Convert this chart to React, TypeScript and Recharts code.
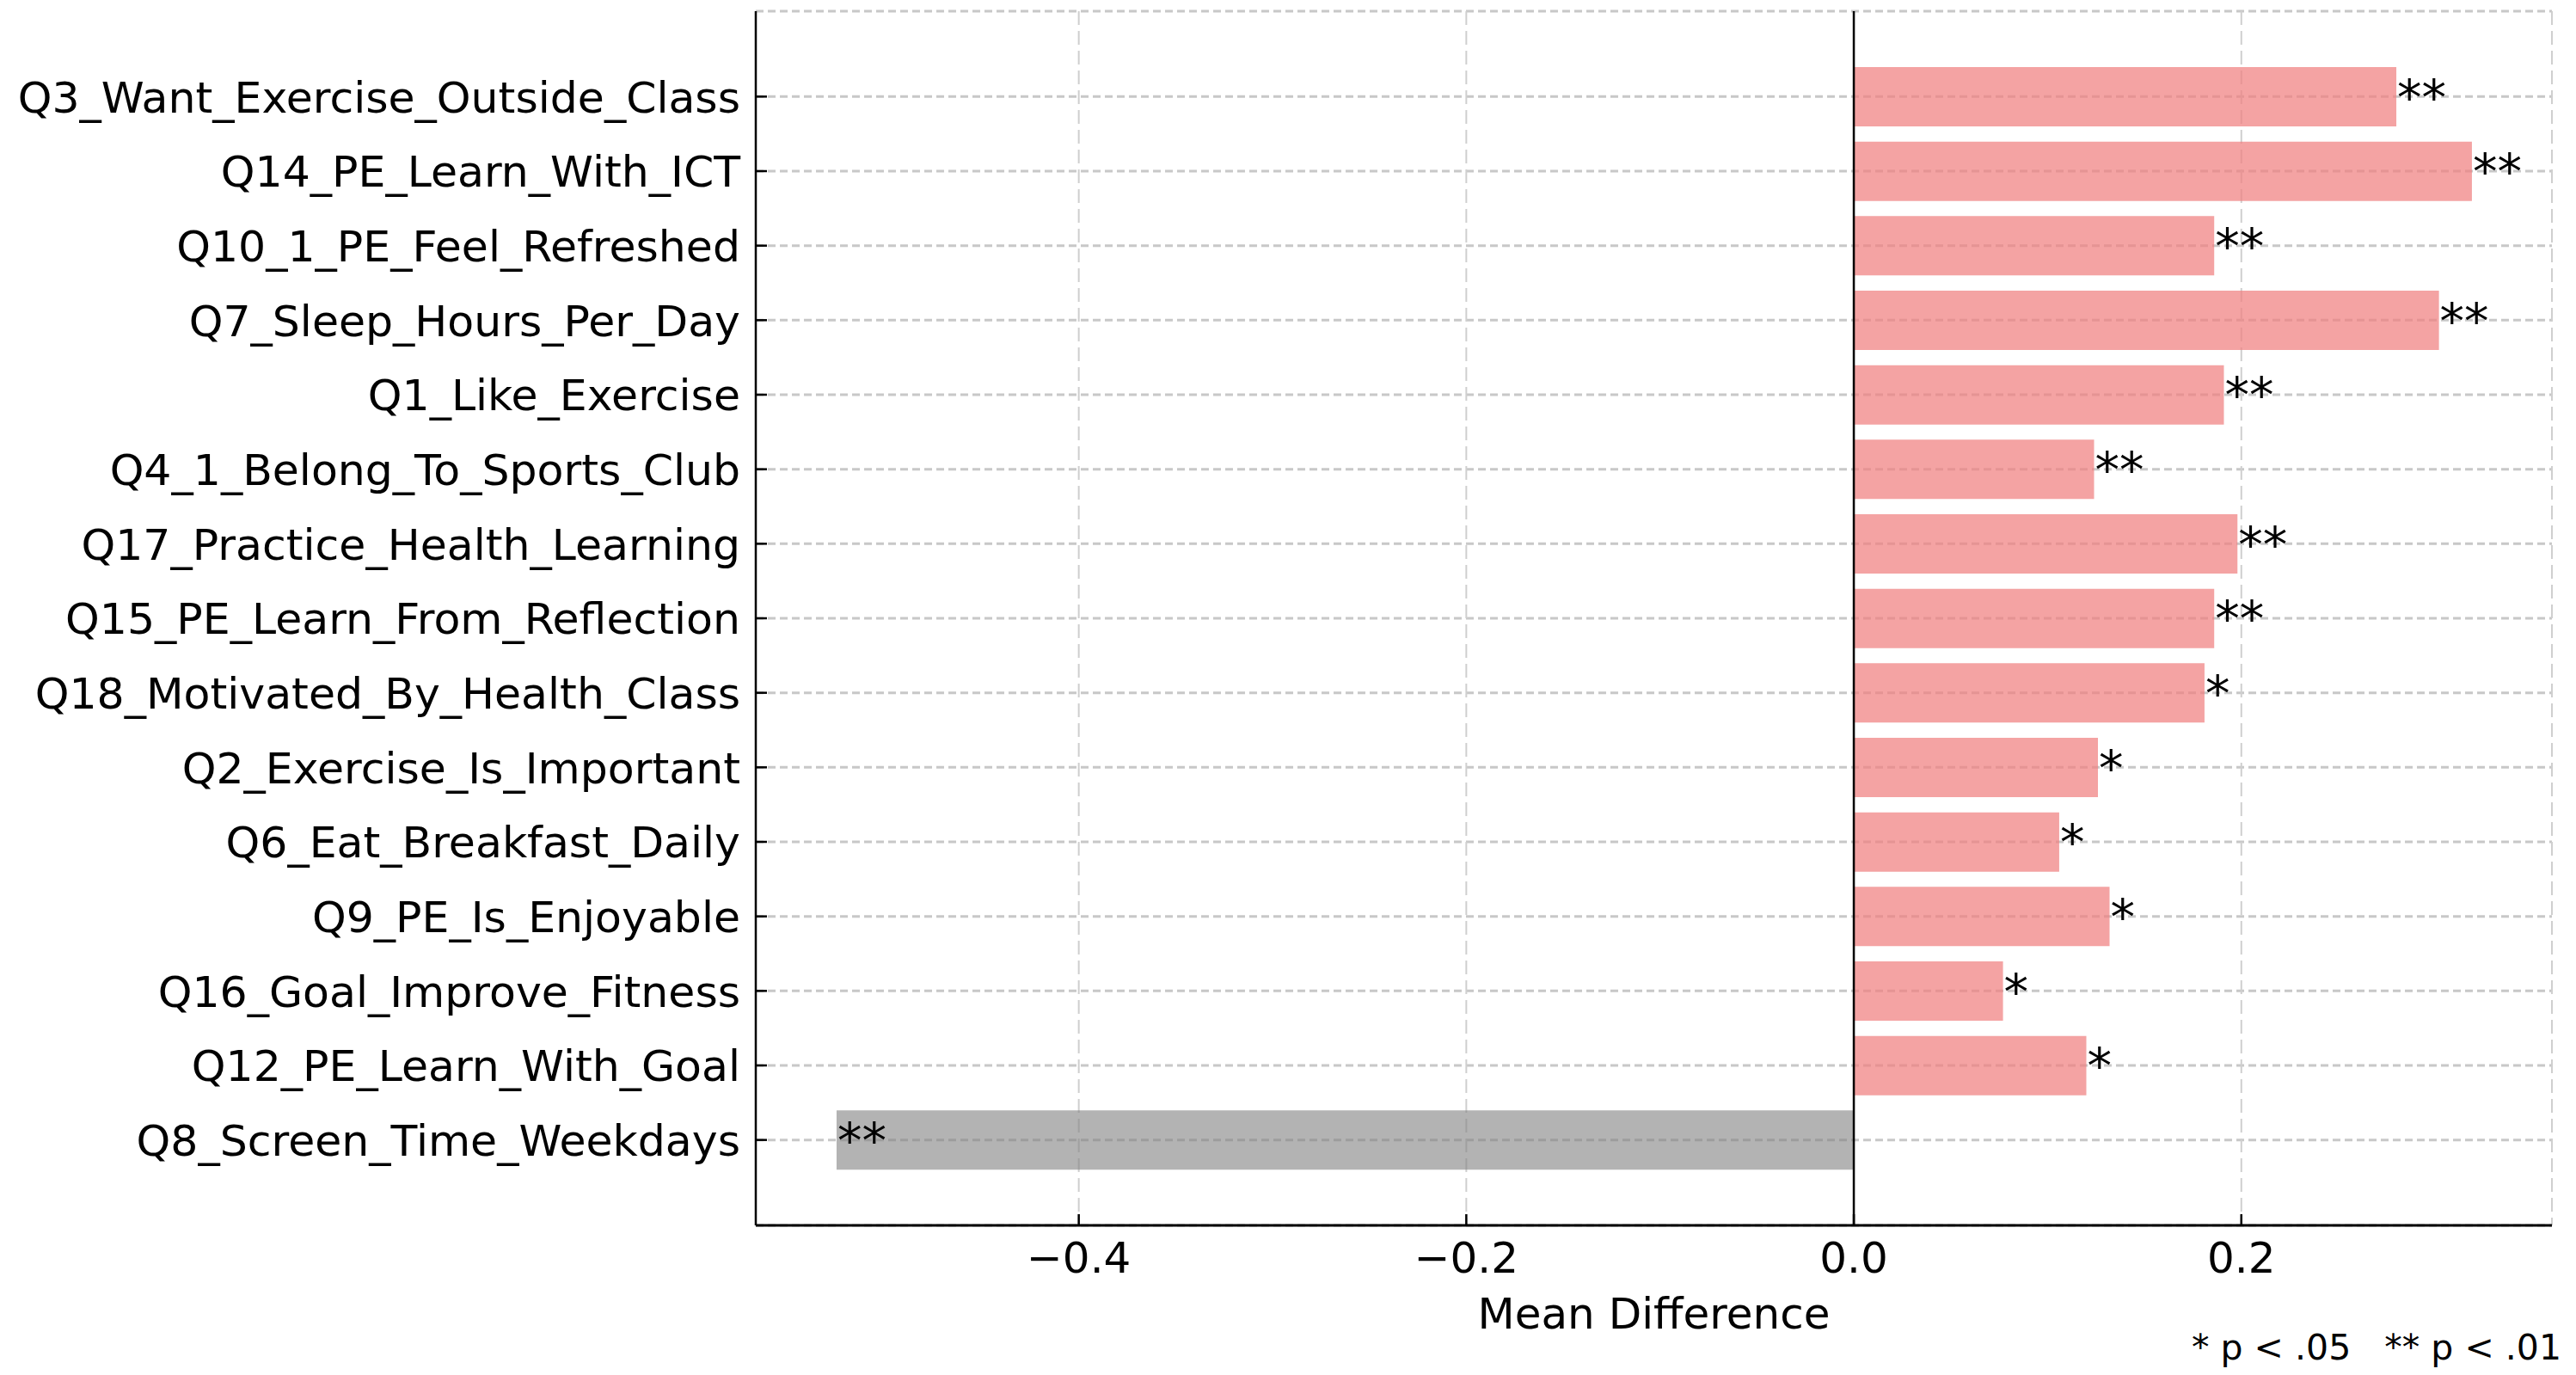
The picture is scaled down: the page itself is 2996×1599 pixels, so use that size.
import { BarChart, Bar, XAxis, YAxis, CartesianGrid, ReferenceLine, Cell, LabelList } from 'recharts'

const categories = [
  'Q3_Want_Exercise_Outside_Class',
  'Q14_PE_Learn_With_ICT',
  'Q10_1_PE_Feel_Refreshed',
  'Q7_Sleep_Hours_Per_Day',
  'Q1_Like_Exercise',
  'Q4_1_Belong_To_Sports_Club',
  'Q17_Practice_Health_Learning',
  'Q15_PE_Learn_From_Reflection',
  'Q18_Motivated_By_Health_Class',
  'Q2_Exercise_Is_Important',
  'Q6_Eat_Breakfast_Daily',
  'Q9_PE_Is_Enjoyable',
  'Q16_Goal_Improve_Fitness',
  'Q12_PE_Learn_With_Goal',
  'Q8_Screen_Time_Weekdays',
]
const meanDiffs = [0.280, 0.319, 0.186, 0.302, 0.191, 0.124, 0.198, 0.186, 0.181, 0.126, 0.106, 0.132, 0.077, 0.120, -0.525]
const significance = ['**', '**', '**', '**', '**', '**', '**', '**', '*', '*', '*', '*', '*', '*', '**']
const xTicks = [-0.4, -0.2, 0.0, 0.2]
const xDomain = [-0.5667, 0.3603]

const FONT = '"DejaVu Sans", sans-serif'

const data = categories.map((name, i) => ({ name, value: meanDiffs[i], sig: significance[i] }))

const formatTick = (v: number) => v.toFixed(1).replace('-', '\u2212')

const YTick = ({ x, y, payload }: any) => (
  <g>
    <line x1={x} x2={x + 13} y1={y} y2={y} stroke="#000" strokeWidth={2.5} />
    <text x={x - 18} y={y} dy="0.36em" textAnchor="end" fontSize={50.5} fontFamily={FONT} fill="#000">
      {payload.value}
    </text>
  </g>
)

const XTick = ({ x, y, payload }: any) => (
  <g>
    <line x1={x} x2={x} y1={y} y2={y - 13} stroke="#000" strokeWidth={2.5} />
    <text x={x} y={y + 55} textAnchor="middle" fontSize={50} fontFamily={FONT} fill="#000">
      {formatTick(payload.value)}
    </text>
  </g>
)

// significance stars sit just past the bar end (inside the bar for the negative one)
const StarLabel = ({ x, y, width, height, index }: any) => {
  const v = meanDiffs[index]
  const end = v >= 0 ? Math.max(x, x + width) : Math.min(x, x + width)
  return (
    <text x={end + 1} y={y + height / 2} dominantBaseline="central" textAnchor="start" fontSize={57} fontFamily={FONT} fill="#000">
      {significance[index]}
    </text>
  )
}

export default function App() {
  return (
    <div style={{ position: 'absolute', left: 0, top: 0, width: 2996, height: 1599, background: '#fff', fontFamily: FONT }}>
      <BarChart width={2996} height={1599} data={data} layout="vertical" margin={{ top: 13, right: 28, bottom: 0, left: 0 }}>
        <CartesianGrid
          horizontal={(p: any) => (
            <line key={p.key} x1={p.x1} x2={p.x2} y1={p.y1} y2={p.y2} stroke="#c8c8c8" strokeWidth={3} strokeDasharray="9 5" />
          )}
          vertical={(p: any) => (
            <line key={p.key} x1={p.x1} x2={p.x2} y1={p.y1} y2={p.y2} stroke="#cfcfcf" strokeWidth={2} strokeDasharray="16 7" />
          )}
        />
        <XAxis
          type="number"
          dataKey="value"
          domain={xDomain}
          ticks={xTicks}
          allowDataOverflow
          height={174}
          tickSize={0}
          tickMargin={0}
          tickLine={false}
          tick={<XTick />}
          axisLine={{ stroke: '#000', strokeWidth: 3 }}
          label={(props: any) => {
            const vb = props.viewBox
            return (
              <text x={vb.x + vb.width / 2} y={vb.y + 120} textAnchor="middle" fontSize={50} fontFamily={FONT} fill="#000">
                Mean Difference
              </text>
            )
          }}
        />
        <YAxis
          type="category"
          dataKey="name"
          width={879}
          padding={{ top: 56, bottom: 56 }}
          tickSize={0}
          tickMargin={0}
          tickLine={false}
          tick={<YTick />}
          interval={0}
          axisLine={{ stroke: '#000', strokeWidth: 2.5 }}
        />
        <Bar dataKey="value" barSize={69} isAnimationActive={false}>
          {data.map((d, i) => (
            <Cell key={i} fill={d.value >= 0 ? '#F08080' : '#808080'} fillOpacity={d.value >= 0 ? 0.72 : 0.6} />
          ))}
          <LabelList dataKey="sig" content={<StarLabel />} />
        </Bar>
        <ReferenceLine x={0} stroke="#000" strokeWidth={2.5} />
      </BarChart>
      <div
        style={{
          position: 'absolute',
          right: 17,
          top: 1547,
          fontSize: 41,
          lineHeight: '41px',
          whiteSpace: 'pre',
          color: '#000',
          fontFamily: FONT,
        }}
      >
        {'* p < .05   ** p < .01'}
      </div>
    </div>
  )
}
